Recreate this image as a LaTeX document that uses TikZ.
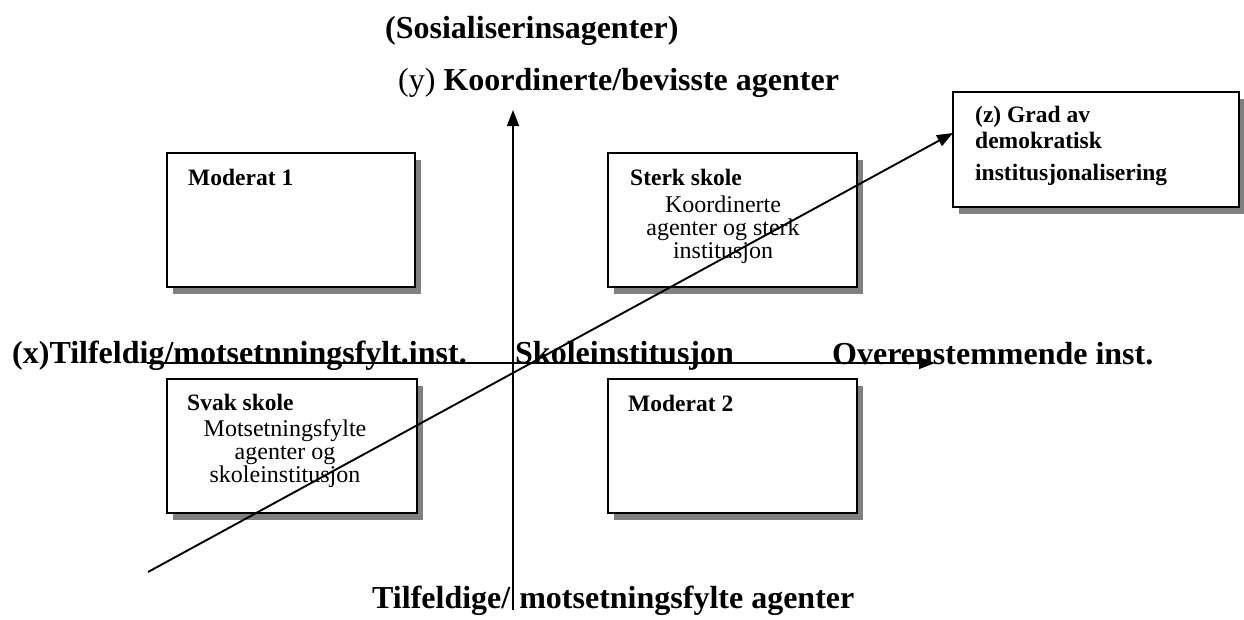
\documentclass[tikz,border=0pt]{standalone}
\usepackage{fontspec}
\setmainfont{Liberation Serif}
\usetikzlibrary{arrows.meta,shadows}
\begin{document}
\begin{tikzpicture}[x=1pt,y=-1pt,
  quad/.style={draw=black, line width=1.8pt, fill=white, inner sep=0pt,
    drop shadow={shadow xshift=6pt, shadow yshift=-7pt, fill=black!50, opacity=1}},
  axlabel/.style={anchor=base west, inner sep=0pt, font=\fontsize{32}{36}\selectfont\bfseries},
  boxtitle/.style={anchor=base west, inner sep=0pt, font=\fontsize{23.5}{26}\selectfont\bfseries},
  boxbody/.style={anchor=base, inner sep=0pt, font=\fontsize{24}{26}\selectfont},
  axis/.style={line width=1.5pt, -{Triangle[length=16pt,width=12pt]}},
  diag/.style={line width=1.9pt, -{Triangle[length=16pt,width=12pt]}}
]
\useasboundingbox (0,0) rectangle (1244,619);

% boxes
\node[quad, minimum width=248pt, minimum height=134pt] (m1) at (291,220) {};
\node[quad, minimum width=249pt, minimum height=134pt] (sterk) at (732.5,220) {};
\node[quad, minimum width=250pt, minimum height=134pt] (svak) at (292,446) {};
\node[quad, minimum width=249pt, minimum height=134pt] (m2) at (732.5,446) {};
\node[quad, minimum width=286pt, minimum height=115pt] (z) at (1096,149.5) {};

% box texts
\node[boxtitle] (m1t) at (188,185) {Moderat 1};
\node[boxtitle] (sterkt) at (630,185) {Sterk skole};
\node[boxbody] (sterk1) at (723,212) {Koordinerte};
\node[boxbody] (sterk2) at (723,235) {agenter og sterk};
\node[boxbody] (sterk3) at (723,258) {institusjon};
\node[boxtitle] (svakt) at (187,410) {Svak skole};
\node[boxbody] (svak1) at (285,436) {Motsetningsfylte};
\node[boxbody] (svak2) at (285,459) {agenter og};
\node[boxbody] (svak3) at (285,482) {skoleinstitusjon};
\node[boxtitle] (m2t) at (628,411) {Moderat 2};
\node[boxtitle] (z1) at (975,122) {(z) Grad av};
\node[boxtitle] (z2) at (975,148) {demokratisk};
\node[boxtitle] (z3) at (975,180) {institusjonalisering};

% axis labels
\node[axlabel] (sos) at (385,38) {(Sosialiserinsagenter)};
\node[axlabel] (ytop) at (398,90) {\mdseries(y) \bfseries Koordinerte/bevisste agenter};
\node[axlabel] (xleft) at (12,363) {(x)Tilfeldig/motsetnningsfylt.inst.};
\node[axlabel] (xmid) at (515,363) {Skoleinstitusjon};
\node[axlabel] (xright) at (832,364) {Overenstemmende inst.};
\node[axlabel] (ybot) at (372,608) {Tilfeldige/\hspace{9pt}motsetningsfylte agenter};

% axes
\coordinate (xl) at (147,363);
\coordinate (xr) at (935,363);
\coordinate (yb) at (513,610);
\coordinate (yt) at (513,110);
\coordinate (dl) at (148,572);
\coordinate (dt) at (953,133);
\draw[axis] (xl) -- (xr);
\draw[axis] (yb) -- (yt);
\draw[diag] (dl) -- (dt);
\end{tikzpicture}
\end{document}
